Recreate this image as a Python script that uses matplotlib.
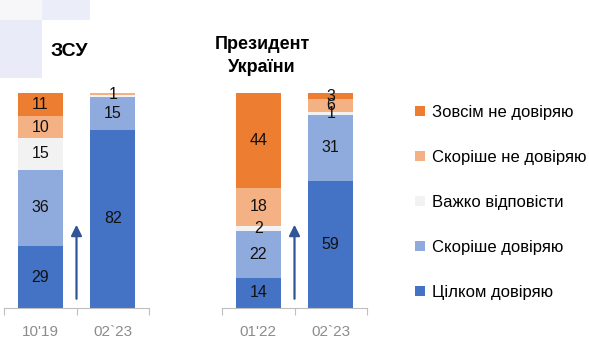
import matplotlib
matplotlib.use("Agg")
import matplotlib.pyplot as plt
from matplotlib.patches import Rectangle, Patch

# data
series = ["Цілком довіряю", "Скоріше довіряю", "Важко відповісти",
          "Скоріше не довіряю", "Зовсім не довіряю"]
colors = ["#4472C4", "#8FAADC", "#F2F2F2", "#F4B183", "#ED7D31"]

zsu_periods = ["10'19", "02`23"]
zsu_values = [[29, 82], [36, 15], [15, 1], [10, 1], [11, 0]]
zsu_hidden = [(2, 1)]  # labels not shown (series, bar)

pres_periods = ["01'22", "02`23"]
pres_values = [[14, 59], [22, 31], [2, 1], [18, 6], [44, 3]]
pres_hidden = []

plt.rcParams["font.family"] = ["Liberation Sans", "DejaVu Sans"]

fig = plt.figure(figsize=(5.89, 3.57), dpi=100)
fig.patch.set_facecolor("white")

# decorative squares top-left
fig.patches.append(Rectangle((0, 1 - 20 / 357), 42 / 589, 20 / 357, transform=fig.transFigure,
                             facecolor="#F7F7FA", edgecolor="none", zorder=0))
fig.patches.append(Rectangle((42 / 589, 1 - 20 / 357), 48 / 589, 20 / 357, transform=fig.transFigure,
                             facecolor="#EBEEF9", edgecolor="none", zorder=0))
fig.patches.append(Rectangle((0, 1 - 78 / 357), 42 / 589, 58 / 357, transform=fig.transFigure,
                             facecolor="#E9ECF8", edgecolor="none", zorder=0))


def stacked(ax, periods, values, hidden):
    totals = [sum(v[i] for v in values) for i in range(len(periods))]
    x = list(range(len(periods)))
    bottoms = [0.0] * len(periods)
    for s, vals in enumerate(values):
        heights = [vals[i] / totals[i] * 100 for i in x]
        ax.bar(x, heights, 0.62, bottom=bottoms, color=colors[s], linewidth=0, zorder=2)
        for i in x:
            if vals[i] > 0 and (s, i) not in hidden:
                ax.text(i, bottoms[i] + heights[i] / 2, str(vals[i]), ha="center", va="center",
                        fontsize=11.5, color="#111111", zorder=3)
        bottoms = [bottoms[i] + heights[i] for i in x]
    ax.set_xlim(-0.5, len(periods) - 0.5)
    ax.set_ylim(0, 100)
    for side in ["top", "left", "right"]:
        ax.spines[side].set_visible(False)
    ax.spines["bottom"].set_color("#BFBFBF")
    ax.set_yticks([])
    ax.set_xticks([-0.5, 0.5, 1.5])
    ax.set_xticklabels([])
    ax.tick_params(axis="x", which="major", length=5, color="#BFBFBF", direction="out")
    ax.set_xticks(x, minor=True)
    ax.set_xticklabels(periods, minor=True, fontsize=11, color="#8C8C8C")
    ax.tick_params(axis="x", which="minor", length=0, pad=12)
    ax.annotate("", xy=(0.5, 40), xytext=(0.5, 3),
                arrowprops=dict(arrowstyle="-|>", color="#2F5597", lw=1.6, mutation_scale=16),
                zorder=3)
    ax.patch.set_alpha(0)


ax1 = fig.add_axes([4 / 589, 1 - 308 / 357, 145 / 589, 215 / 357])
stacked(ax1, zsu_periods, zsu_values, zsu_hidden)
ax2 = fig.add_axes([222 / 589, 1 - 308 / 357, 145 / 589, 215 / 357])
stacked(ax2, pres_periods, pres_values, pres_hidden)

fig.text(69 / 589, 1 - 52 / 357, "ЗСУ", ha="center", va="center", fontsize=14,
         fontweight="bold")
fig.text(262 / 589, 1 - 56 / 357, "Президент\nУкраїни", ha="center", va="center",
         fontsize=13, fontweight="bold", linespacing=1.45)

handles = [Patch(facecolor=colors[s], edgecolor="none") for s in range(len(series))][::-1]
fig.legend(handles, series[::-1], loc="upper left", bbox_to_anchor=(415 / 589, 1 - 105 / 357),
           frameon=False, fontsize=12, handlelength=0.6, handleheight=0.6,
           handletextpad=0.4, labelspacing=1.8, borderpad=0, borderaxespad=0)

fig.savefig("out.png", dpi=100)
